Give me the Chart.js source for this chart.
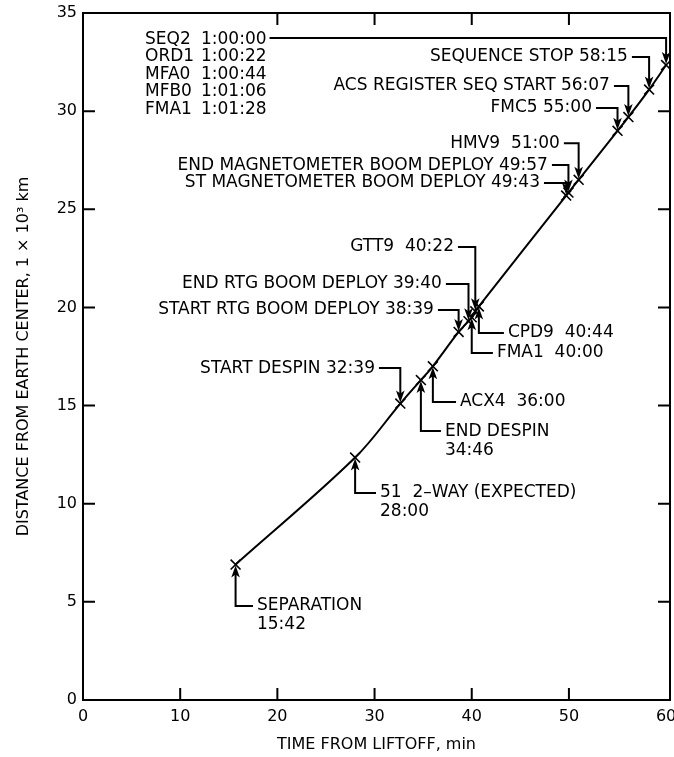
<!DOCTYPE html>
<html>
<head>
<meta charset="utf-8">
<script src="https://cdn.jsdelivr.net/npm/chart.js@4/dist/chart.umd.min.js"></script>
<style>
  html, body { margin: 0; padding: 0; background: #fff; }
  #wrap { width: 674px; height: 757px; }
</style>
</head>
<body>
<div id="wrap"><canvas id="c" width="674" height="757"></canvas></div>
<script>
const FONT = '"DejaVu Sans", "Liberation Sans", sans-serif';

// Events along the trajectory: name and mission clock (min:sec, or h:min:sec, after liftoff)
const eventNames = ['SEPARATION', '51  2\u2013WAY (EXPECTED)', 'START DESPIN', 'END DESPIN', 'ACX4',
  'START RTG BOOM DEPLOY', 'END RTG BOOM DEPLOY', 'FMA1', 'GTT9', 'CPD9',
  'ST MAGNETOMETER BOOM DEPLOY', 'END MAGNETOMETER BOOM DEPLOY', 'HMV9', 'FMC5',
  'ACS REGISTER SEQ START', 'SEQUENCE STOP', 'SEQ2'];
const eventClock = ['15:42', '28:00', '32:39', '34:46', '36:00',
  '38:39', '39:40', '40:00', '40:22', '40:44',
  '49:43', '49:57', '51:00', '55:00',
  '56:07', '58:15', '1:00:00'];
// Distance from Earth center at each event, 10^3 km
const eventDistance = [6.9, 12.35, 15.1, 16.3, 17.0,
  18.75, 19.3, 19.5, 19.8, 20.05,
  25.7, 25.85, 26.5, 29.0,
  29.7, 31.1, 32.35];

// Sequencer commands listed in the upper-left corner
const seqNames = ['SEQ2', 'ORD1', 'MFA0', 'MFB0', 'FMA1'];
const seqClock = ['1:00:00', '1:00:22', '1:00:44', '1:01:06', '1:01:28'];

// Axis tick values
const xTicks = [0, 10, 20, 30, 40, 50, 60];
const yTicks = [0, 5, 10, 15, 20, 25, 30, 35];

// Callout placement for each event (anchor in axis units: minutes, 10^3 km)
const callouts = [
  { side: 'below', at: [17.90, 4.79], twoLine: true },
  { side: 'below', at: [30.56, 10.55], twoLine: true },
  { side: 'above', at: [30.04, 16.91] },
  { side: 'below', at: [37.24, 13.70], twoLine: true },
  { side: 'below', at: [38.79, 15.18], sep: '  ' },
  { side: 'above', at: [36.11, 19.87] },
  { side: 'above', at: [36.93, 21.19] },
  { side: 'below', at: [42.59, 17.68], sep: '  ' },
  { side: 'above', at: [38.17, 23.08], sep: '  ' },
  { side: 'below', at: [43.72, 18.70], sep: '  ' },
  { side: 'above', at: [47.02, 26.34] },
  { side: 'above', at: [47.84, 27.25] },
  { side: 'above', at: [49.07, 28.37], sep: '  ' },
  { side: 'above', at: [52.37, 30.16] },
  { side: 'above', at: [54.22, 31.28] },
  { side: 'above', at: [56.07, 32.76] },
  { side: 'list',  at: [6.38, 33.67] }
];

function toMinutes(s) {
  const p = s.split(':').map(Number);
  return p.length === 3 ? p[0] * 60 + p[1] + p[2] / 60 : p[0] + p[1] / 60;
}

const points = eventClock.map((c, i) => ({ x: toMinutes(c), y: eventDistance[i] }));

function arrowHead(ctx, x, tipY, dir) {
  // dir = 1 points down, -1 points up
  const L = 12, W = 4.3;
  ctx.beginPath();
  ctx.moveTo(x, tipY);
  ctx.lineTo(x - W, tipY - dir * L);
  ctx.lineTo(x, tipY - dir * (L - 3));
  ctx.lineTo(x + W, tipY - dir * L);
  ctx.closePath();
  ctx.fill();
}

const framePlugin = {
  id: 'frame',
  afterDatasetsDraw(chart) {
    const { ctx, chartArea: a, scales: { x, y } } = chart;
    ctx.save();
    ctx.strokeStyle = '#000';
    ctx.fillStyle = '#000';
    ctx.lineWidth = 2;
    ctx.strokeRect(a.left, a.top, a.right - a.left, a.bottom - a.top);

    // inward tick marks
    ctx.beginPath();
    xTicks.filter(v => v > 0 && v < 60).forEach(v => {
      const px = x.getPixelForValue(v);
      ctx.moveTo(px, a.bottom); ctx.lineTo(px, a.bottom - 12);
      if (v >= 20) { ctx.moveTo(px, a.top); ctx.lineTo(px, a.top + 12); }
    });
    yTicks.filter(v => v > 0 && v < 35).forEach(v => {
      const py = y.getPixelForValue(v);
      ctx.moveTo(a.left, py); ctx.lineTo(a.left + 12, py);
      ctx.moveTo(a.right, py); ctx.lineTo(a.right - 12, py);
    });
    ctx.stroke();

    // callouts
    ctx.font = '17px ' + FONT;
    ctx.textBaseline = 'middle';
    ctx.lineWidth = 2;
    callouts.forEach((c, i) => {
      const ex = x.getPixelForValue(points[i].x);
      const ey = y.getPixelForValue(points[i].y);
      const lx = x.getPixelForValue(c.at[0]);
      const ly = y.getPixelForValue(c.at[1]);
      if (c.side === 'above') {
        const text = eventNames[i] + (c.sep || ' ') + eventClock[i];
        ctx.textAlign = 'right';
        ctx.fillText(text, lx, ly);
        ctx.beginPath();
        ctx.moveTo(lx + 4, ly); ctx.lineTo(ex, ly); ctx.lineTo(ex, ey - 8);
        ctx.stroke();
        arrowHead(ctx, ex, ey - 1, 1);
      } else if (c.side === 'below') {
        ctx.textAlign = 'left';
        if (c.twoLine) {
          ctx.fillText(eventNames[i], lx, ly);
          ctx.fillText(eventClock[i], lx, ly + 19);
        } else {
          ctx.fillText(eventNames[i] + (c.sep || ' ') + eventClock[i], lx, ly);
        }
        ctx.beginPath();
        ctx.moveTo(ex, ey + 8); ctx.lineTo(ex, ly); ctx.lineTo(lx - 4, ly);
        ctx.stroke();
        arrowHead(ctx, ex, ey + 1, -1);
      } else {
        ctx.textAlign = 'left';
        const rowH = 17.5, colGap = 56;
        seqNames.forEach((n, r) => {
          ctx.fillText(n, lx, ly + r * rowH);
          ctx.fillText(seqClock[r], lx + colGap, ly + r * rowH);
        });
        const endX = lx + colGap + ctx.measureText(seqClock[0]).width;
        ctx.beginPath();
        ctx.moveTo(endX + 3, ly - 1); ctx.lineTo(ex, ly - 1); ctx.lineTo(ex, ey - 8);
        ctx.stroke();
        arrowHead(ctx, ex, ey - 1, 1);
      }
    });
    ctx.restore();
  }
};

Chart.defaults.font.family = FONT;
Chart.defaults.color = '#000';

new Chart(document.getElementById('c'), {
  type: 'line',
  data: {
    datasets: [{
      data: points,
      borderColor: '#000',
      borderWidth: 2,
      fill: false,
      tension: 0.35,
      pointStyle: 'crossRot',
      pointRadius: 7,
      pointBorderWidth: 1.6,
      pointBorderColor: '#000',
      pointBackgroundColor: '#000'
    }]
  },
  options: {
    responsive: false,
    animation: false,
    devicePixelRatio: 1,
    layout: { autoPadding: false, padding: { top: 13, right: 4, left: 0, bottom: 0 } },
    plugins: { legend: { display: false }, tooltip: { enabled: false } },
    scales: {
      x: {
        type: 'linear', min: 0, max: 60.4,
        afterBuildTicks: s => { s.ticks = xTicks.map(v => ({ value: v })); },
        afterFit: s => { s.height = 57; s.paddingLeft = 0; s.paddingRight = 0; },
        grid: { display: false, drawTicks: false },
        border: { display: false },
        ticks: { font: { size: 16 }, color: '#000', padding: 7, maxRotation: 0, autoSkip: false },
        title: { display: true, text: 'TIME FROM LIFTOFF, min', font: { size: 16 }, color: '#000',
                 padding: { top: 0, bottom: 3 } }
      },
      y: {
        type: 'linear', min: 0, max: 35,
        afterBuildTicks: s => { s.ticks = yTicks.map(v => ({ value: v })); },
        afterFit: s => { s.width = 83; s.paddingTop = 0; s.paddingBottom = 0; },
        grid: { display: false, drawTicks: false },
        border: { display: false },
        ticks: { font: { size: 16 }, color: '#000', padding: 6, autoSkip: false },
        title: { display: true, text: 'DISTANCE FROM EARTH CENTER, 1 \u00d7 10\u00b3 km', font: { size: 16 },
                 color: '#000', padding: { top: 14, bottom: 0 } }
      }
    }
  },
  plugins: [framePlugin]
});
</script>
</body>
</html>
